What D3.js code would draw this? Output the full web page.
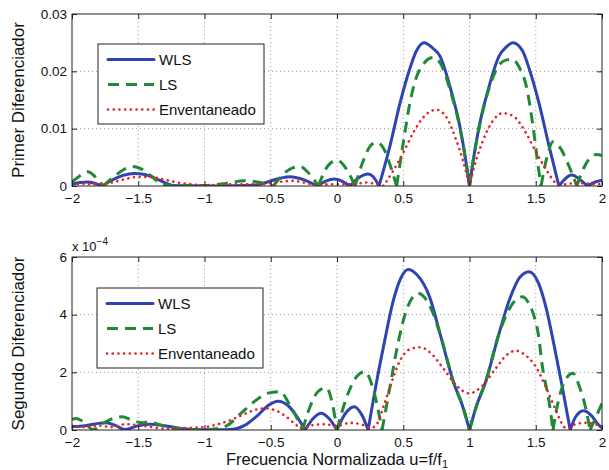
<!DOCTYPE html>
<html><head><meta charset="utf-8">
<script src="https://cdn.jsdelivr.net/npm/d3@7"></script>
<style>
html,body{margin:0;padding:0;background:#fff;}
svg text{font-family:"Liberation Sans",Arial,Helvetica,sans-serif;fill:#111;}
</style></head>
<body><svg id="c" width="609" height="470"></svg>
<script>
// ---------- data ----------
const xTicks = [-2,-1.5,-1,-0.5,0,0.5,1,1.5,2];
const xTickLabels = ["\u22122","\u22121.5","\u22121","\u22120.5","0","0.5","1","1.5","2"];
const topYTicks = [0,0.01,0.02,0.03];
const topYTickLabels = ["0","0.01","0.02","0.03"];
const botYTicks = [0,2,4,6];
const botYTickLabels = ["0","2","4","6"];
const seriesNames = ["WLS","LS","Enventaneado"];

// Top panel (Primer Diferenciador)
const topWlsU = [-2,-1.94,-1.88,-1.82,-1.77,-1.7,-1.62,-1.53,-1.45,-1.38,-1.3,-1.24,-1.15,-1.0,-0.85,-0.7,-0.6,-0.5,-0.42,-0.355,-0.28,-0.2,-0.15,-0.08,-0.02,0.04,0.098,0.15,0.2,0.235,0.27,0.317,0.4,0.475,0.55,0.6,0.657,0.72,0.778,0.853,0.928,0.975,1.0,1.025,1.072,1.147,1.222,1.28,1.328,1.4,1.45,1.525,1.6,1.675,1.72,1.77,1.83,1.89,1.95,2.0];
const topWlsV = [0.0003,0.0006,0.0007,0.0004,0,0.001,0.0018,0.0022,0.002,0.0014,0.0006,0.0001,0.00003,0.00002,0.00002,0.00008,0.0002,0.0009,0.0014,0.0016,0.0013,0.0006,0,0.0009,0.0012,0.0008,0,0.0012,0.0019,0.0021,0.0017,0,0.007,0.0144,0.0205,0.0236,0.025,0.0241,0.0226,0.0173,0.0103,0.004,0,0.004,0.0103,0.0173,0.0226,0.0243,0.025,0.0236,0.0205,0.0144,0.007,0,0.0012,0.0019,0.0012,0,0.0007,0.001];
const topLsU = [-2,-1.94,-1.88,-1.82,-1.765,-1.68,-1.6,-1.54,-1.47,-1.4,-1.31,-1.2,-1.0,-0.85,-0.7,-0.6,-0.48,-0.4,-0.33,-0.28,-0.22,-0.14,-0.07,0,0.07,0.136,0.2,0.26,0.3,0.36,0.41,0.45,0.5,0.55,0.6,0.66,0.725,0.78,0.853,0.928,0.975,1.0,1.025,1.072,1.15,1.22,1.28,1.32,1.38,1.43,1.48,1.515,1.54,1.59,1.63,1.68,1.75,1.81,1.87,1.93,1.96,2.0];
const topLsV = [0.0007,0.0018,0.0025,0.0015,0,0.0017,0.003,0.0034,0.0029,0.0017,0.0002,0.0001,0.0001,0.0004,0.0009,0.0007,0,0.0022,0.0032,0.0034,0.0024,0,0.0035,0.0045,0.003,0,0.0045,0.0072,0.0076,0.0062,0.003,0,0.0075,0.0145,0.019,0.0215,0.0224,0.0214,0.0168,0.0101,0.004,0,0.004,0.0101,0.0172,0.021,0.022,0.0221,0.0205,0.0173,0.0103,0.004,0,0.0055,0.0077,0.0068,0.0035,0,0.0035,0.0053,0.0055,0.0053];
const topWinU = [-2,-1.9,-1.8,-1.7,-1.6,-1.5,-1.42,-1.3,-1.2,-1.1,-1.0,-0.9,-0.8,-0.7,-0.6,-0.5,-0.4,-0.33,-0.25,-0.15,-0.05,0.05,0.15,0.22,0.3,0.35,0.42,0.5,0.58,0.66,0.75,0.82,0.9,0.95,1.0,1.05,1.1,1.18,1.25,1.33,1.42,1.5,1.58,1.65,1.68,1.75,1.85,1.95,2.0];
const topWinV = [0.0003,0.0004,0.0003,0.0006,0.0012,0.0016,0.0016,0.0011,0.0006,0.0003,0.0001,0.0002,0.0003,0.0003,0.0003,0.0005,0.0008,0.0009,0.0006,0.0002,0.0003,0.0003,0.0004,0.0006,0.0003,0,0.0025,0.0058,0.0095,0.0122,0.0133,0.0122,0.008,0.0045,0,0.0045,0.0078,0.0115,0.0127,0.0122,0.0095,0.006,0.0028,0.0005,0,0.0004,0.0005,0.0003,0.0004];

// Bottom panel (Segundo Diferenciador), values in units of 1e-4
const botWlsU = [-2,-1.9,-1.8,-1.74,-1.67,-1.6,-1.5,-1.41,-1.3,-1.2,-1.1,-1.0,-0.9,-0.8,-0.7,-0.6,-0.52,-0.445,-0.37,-0.3,-0.24,-0.18,-0.12,-0.06,0,0.06,0.13,0.19,0.235,0.3,0.36,0.42,0.48,0.536,0.6,0.7,0.78,0.88,0.95,1.0,1.05,1.12,1.22,1.3,1.38,1.45,1.52,1.58,1.64,1.7,1.76,1.8,1.86,1.92,1.97,2.0];
const botWlsV = [0.12,0.15,0.23,0.25,0.15,0.02,0.15,0.2,0.15,0.07,0.02,0.005,0.005,0.02,0.15,0.5,0.85,1.0,0.85,0.45,0,0.4,0.58,0.4,0,0.55,0.81,0.5,0,1.7,3.1,4.4,5.25,5.57,5.4,4.6,3.3,1.65,0.8,0,0.8,1.65,3.3,4.5,5.3,5.49,5.1,4.2,2.9,1.5,0,0.45,0.67,0.5,0.2,0.07];
const botLsU = [-2,-1.97,-1.92,-1.84,-1.76,-1.68,-1.62,-1.55,-1.47,-1.41,-1.35,-1.25,-1.1,-1.0,-0.9,-0.83,-0.72,-0.62,-0.52,-0.43,-0.36,-0.26,-0.2,-0.14,-0.08,-0.03,0,0.07,0.14,0.21,0.28,0.34,0.4,0.46,0.52,0.57,0.61,0.66,0.72,0.78,0.88,0.95,1.0,1.05,1.12,1.22,1.3,1.36,1.4,1.44,1.48,1.52,1.55,1.6,1.63,1.67,1.72,1.78,1.83,1.88,1.91,1.95,2.0];
const botLsV = [0.37,0.4,0.3,0.02,0.25,0.42,0.46,0.35,0.25,0.29,0.2,0.08,0.02,0.01,0.05,0.15,0.6,1.0,1.28,1.33,0.9,0,0.85,1.35,1.46,0.8,0,1.1,1.8,2.02,1.3,0,1.5,3.0,4.1,4.6,4.74,4.6,4.1,3.3,1.65,0.8,0,0.8,1.65,3.3,4.2,4.55,4.62,4.45,4.05,3.3,2.2,1.0,0,1.0,1.7,1.97,1.5,0.7,0,0.4,0.93];
const botWinU = [-2,-1.9,-1.8,-1.7,-1.6,-1.5,-1.4,-1.3,-1.2,-1.1,-1.0,-0.9,-0.8,-0.7,-0.6,-0.53,-0.45,-0.38,-0.3,-0.26,-0.2,-0.1,0,0.1,0.18,0.26,0.3,0.35,0.4,0.475,0.55,0.63,0.7,0.8,0.9,1.0,1.1,1.2,1.28,1.35,1.42,1.5,1.58,1.65,1.7,1.73,1.8,1.88,1.95,2.0];
const botWinV = [0.15,0.1,0.15,0.1,0.2,0.17,0.1,0.05,0.05,0.08,0.1,0.2,0.35,0.55,0.72,0.75,0.65,0.45,0.15,0.05,0.15,0.2,0.15,0.25,0.2,0.08,0.2,0.8,1.5,2.4,2.8,2.87,2.7,2.15,1.55,1.27,1.55,2.15,2.6,2.75,2.6,2.2,1.45,0.7,0.2,0.05,0.2,0.25,0.2,0.1];

// ---------- drawing ----------
const svg = d3.select("#c");
const L = 72, R = 602;
const panels = [
  {top:14, bottom:186, domain:[0,0.03], ticks:topYTicks, labels:topYTickLabels, ylabel:"Primer Diferenciador",
   series:[[topWlsU,topWlsV],[topLsU,topLsV],[topWinU,topWinV]], legend:{x:98,y:44,w:166,h:80}},
  {top:257, bottom:430, domain:[0,6], ticks:botYTicks, labels:botYTickLabels, ylabel:"Segundo Diferenciador",
   series:[[botWlsU,botWlsV],[botLsU,botLsV],[botWinU,botWinV]], legend:{x:97,y:288,w:166,h:80}, exp:true}
];
const styles = [
  {color:"#2f44b0", width:3, dash:null, cap:"round"},
  {color:"#1f8a36", width:3, dash:"11,7", cap:"butt"},
  {color:"#e8202a", width:2.6, dash:"0.1,5.6", cap:"round"}
];

function buildPath(us, vs, x, y){
  const line = d3.line().curve(d3.curveMonotoneX);
  const segs = []; let cur = [[x(us[0]), y(vs[0])]];
  for (let i=1;i<us.length;i++){
    const p = [x(us[i]), y(vs[i])];
    cur.push(p);
    if (vs[i]===0 && i<us.length-1){ segs.push(cur); cur=[p]; }
  }
  segs.push(cur);
  return segs.map(s=>line(s)).join("");
}

panels.forEach((P,pi)=>{
  const x = d3.scaleLinear().domain([-2,2]).range([L,R]);
  const y = d3.scaleLinear().domain(P.domain).range([P.bottom,P.top]);
  const g = svg.append("g");
  // grid
  g.selectAll(".gx").data(xTicks.slice(1,-1)).enter().append("line")
    .attr("x1",d=>x(d)).attr("x2",d=>x(d)).attr("y1",P.top).attr("y2",P.bottom)
    .attr("stroke","#9a9a9a").attr("stroke-width",1).attr("stroke-dasharray","1,3");
  g.selectAll(".gy").data(P.ticks.slice(1,-1)).enter().append("line")
    .attr("y1",d=>y(d)).attr("y2",d=>y(d)).attr("x1",L).attr("x2",R)
    .attr("stroke","#9a9a9a").attr("stroke-width",1).attr("stroke-dasharray","1,3");
  // clip
  const cid = "clip"+pi;
  svg.append("clipPath").attr("id",cid).append("rect")
    .attr("x",L).attr("y",P.top-2).attr("width",R-L).attr("height",P.bottom-P.top+2);
  const cg = g.append("g").attr("clip-path",`url(#${cid})`);
  P.series.forEach((s,si)=>{
    const st = styles[si];
    cg.append("path").attr("d", buildPath(s[0], s[1], x, y))
      .attr("fill","none").attr("stroke",st.color).attr("stroke-width",st.width)
      .attr("stroke-linecap",st.cap).attr("stroke-linejoin","round")
      .attr("stroke-dasharray",st.dash);
  });
  // axes box
  g.append("rect").attr("x",L).attr("y",P.top).attr("width",R-L).attr("height",P.bottom-P.top)
    .attr("fill","none").attr("stroke","#222").attr("stroke-width",1);
  // inward ticks
  const xb = d3.axisBottom(x).tickValues(xTicks).tickSize(-5).tickFormat((d,i)=>xTickLabels[i]).tickPadding(7);
  const ga = g.append("g").attr("transform",`translate(0,${P.bottom})`).call(xb);
  const xt = d3.axisTop(x).tickValues(xTicks).tickSize(-5).tickFormat("");
  const gt = g.append("g").attr("transform",`translate(0,${P.top})`).call(xt);
  const yl = d3.axisLeft(y).tickValues(P.ticks).tickSize(-5).tickFormat((d,i)=>P.labels[i]).tickPadding(5);
  const gl = g.append("g").attr("transform",`translate(${L},0)`).call(yl);
  const yr = d3.axisRight(y).tickValues(P.ticks).tickSize(-5).tickFormat("");
  const gr = g.append("g").attr("transform",`translate(${R},0)`).call(yr);
  [ga,gt,gl,gr].forEach(a=>{
    a.select(".domain").remove();
    a.selectAll("line").attr("stroke","#222");
    a.selectAll("text").attr("font-size",13.5).attr("font-family","Liberation Sans, Arial, sans-serif").attr("fill","#111");
  });
  // y label
  svg.append("text").attr("transform",`translate(24,${(P.top+P.bottom)/2}) rotate(-90)`)
    .attr("text-anchor","middle").attr("font-size",17).text(P.ylabel);
  if (P.exp){
    const t = svg.append("text").attr("x",72).attr("y",P.top-6).attr("font-size",13);
    t.append("tspan").text("x 10");
    t.append("tspan").attr("dy",-6).attr("font-size",10).text("\u22124");
  }
  // legend
  const lg = svg.append("g");
  lg.append("rect").attr("x",P.legend.x).attr("y",P.legend.y).attr("width",P.legend.w).attr("height",P.legend.h)
    .attr("fill","#fff").attr("stroke","#222").attr("stroke-width",1);
  seriesNames.forEach((n,i)=>{
    const yy = P.legend.y + 15.5 + i*25;
    const st = styles[i];
    lg.append("line").attr("x1",P.legend.x+10).attr("x2",P.legend.x+56).attr("y1",yy).attr("y2",yy)
      .attr("stroke",st.color).attr("stroke-width",st.width).attr("stroke-linecap",st.cap)
      .attr("stroke-dasharray",st.dash);
    lg.append("text").attr("x",P.legend.x+61).attr("y",yy+5.5).attr("font-size",15).text(n);
  });
});
// x label
const xl = svg.append("text").attr("x",337).attr("y",465).attr("text-anchor","middle").attr("font-size",16.5);
xl.append("tspan").text("Frecuencia Normalizada u=f/f");
xl.append("tspan").attr("dy",2.5).attr("font-size",11).text("1");
</script></body></html>
